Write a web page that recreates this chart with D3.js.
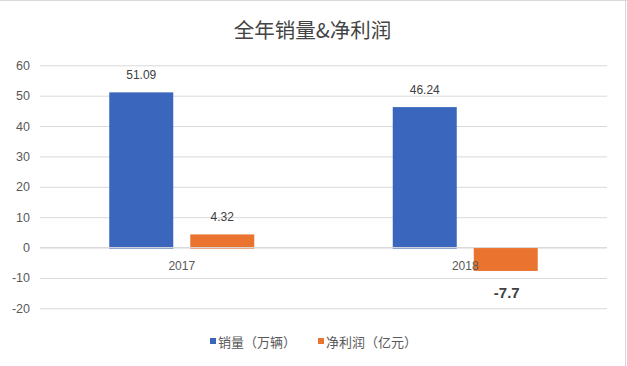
<!DOCTYPE html>
<html>
<head>
<meta charset="utf-8">
<script src="https://cdn.jsdelivr.net/npm/d3@7"></script>
<style>
  body { margin: 0; background: #fff; }
  #chart { width: 627px; height: 366px; }
  text { font-family: "Noto Sans CJK SC", "Liberation Sans", sans-serif; }
</style>
</head>
<body>
<div id="chart"></div>
<script>
var title = "全年销量&净利润";
var categories = ["2017", "2018"];
var seriesNames = ["销量（万辆）", "净利润（亿元）"];
var sales = [51.09, 46.24];
var profit = [4.32, -7.7];
var yTicks = [-20, -10, 0, 10, 20, 30, 40, 50, 60];

var colors = ["#3A67BD", "#EB7330"];

var visualize = function() {
  var W = 627, H = 366;
  var margin = { top: 65.3, right: 20, bottom: 57.7, left: 40 };
  var width = W - margin.left - margin.right,
     height = H - margin.top - margin.bottom;

  var root = d3.select("#chart").append("svg")
    .attr("width", W).attr("height", H);

  // frame (top / right edge of the original screenshot)
  root.append("line").attr("x1", 0).attr("x2", W).attr("y1", 0.5).attr("y2", 0.5)
    .attr("stroke", "#d9d9d9");
  root.append("line").attr("x1", W - 1.5).attr("x2", W - 1.5).attr("y1", 0).attr("y2", H)
    .attr("stroke", "#d9d9d9");

  root.append("text")
    .text(title)
    .attr("x", W / 2 - 1)
    .attr("y", 38)
    .attr("text-anchor", "middle")
    .style("font-size", "20.5px")
    .attr("fill", "#444");

  var svg = root.append("g")
    .attr("transform", "translate(" + margin.left + "," + margin.top + ")");

  var y = d3.scaleLinear().domain([-20, 60]).range([height, 0]);

  var x = d3.scaleBand().domain(categories).range([0, width]);
  var x1 = d3.scaleBand().domain([0, 1]).range([0, 145]).paddingInner(0.21);

  // grid
  var y_grid = d3.axisLeft(y).tickValues(yTicks).tickSize(-width).tickFormat("");
  svg.append("g").call(y_grid)
    .call(function (g) { g.select(".domain").remove(); })
    .selectAll("line").attr("stroke", "#d9d9d9");

  // y labels
  var y_axis = d3.axisLeft(y).tickValues(yTicks).tickSize(0).tickPadding(10)
    .tickFormat(function (d) { return String(d); });
  svg.append("g").call(y_axis)
    .call(function (g) { g.select(".domain").remove(); })
    .selectAll("text")
    .attr("fill", "#595959")
    .style("font-size", "12.5px")
    .style("font-family", "Liberation Sans, sans-serif");

  var groups = svg.selectAll(".grp")
    .data(categories)
    .enter().append("g")
    .attr("transform", function (d) {
      return "translate(" + (x(d) + x.bandwidth() / 2 - 72.5) + ",0)";
    });

  var vals = [sales, profit];
  groups.selectAll("rect")
    .data(function (d, i) { return [vals[0][i], vals[1][i]]; })
    .enter().append("rect")
    .attr("x", function (d, j) { return x1(j); })
    .attr("width", x1.bandwidth())
    .attr("y", function (d) { return y(Math.max(0, d)); })
    .attr("height", function (d) { return Math.abs(y(d) - y(0)) + (d > 0 ? 1 : 0); })
    .attr("fill", function (d, j) { return colors[j]; });

  // zero line over bars
  svg.append("line")
    .attr("x1", 0).attr("x2", width)
    .attr("y1", y(0)).attr("y2", y(0))
    .attr("stroke", "#d9d9d9");

  // category labels
  groups.append("text")
    .text(function (d) { return d; })
    .attr("x", 72.5)
    .attr("y", y(0) + 22)
    .attr("text-anchor", "middle")
    .attr("fill", "#595959")
    .style("font-size", "12px")
    .style("font-family", "Liberation Sans, sans-serif");

  // value labels
  groups.selectAll(".lbl")
    .data(function (d, i) { return [vals[0][i], vals[1][i]]; })
    .enter().append("text")
    .text(function (d) { return d; })
    .attr("x", function (d, j) { return x1(j) + x1.bandwidth() / 2 + (d < 0 ? 1 : 0); })
    .attr("y", function (d) { return d >= 0 ? y(d) - 13 : y(d) + 27; })
    .attr("text-anchor", "middle")
    .attr("fill", "#404040")
    .style("font-size", function (d) { return d >= 0 ? "12px" : "15px"; })
    .style("font-weight", function (d) { return d >= 0 ? "normal" : "bold"; })
    .style("font-family", "Liberation Sans, sans-serif");

  // legend
  var legend = root.append("g").attr("transform", "translate(0,342)");
  var lx = [210, 318];
  seriesNames.forEach(function (name, i) {
    legend.append("rect")
      .attr("x", lx[i]).attr("y", -4).attr("width", 6).attr("height", 6)
      .attr("fill", colors[i]);
    legend.append("text")
      .text(name)
      .attr("x", lx[i] + 8)
      .attr("y", 5)
      .attr("fill", "#595959")
      .style("font-size", "13px");
  });
};

visualize();
</script>
</body>
</html>
